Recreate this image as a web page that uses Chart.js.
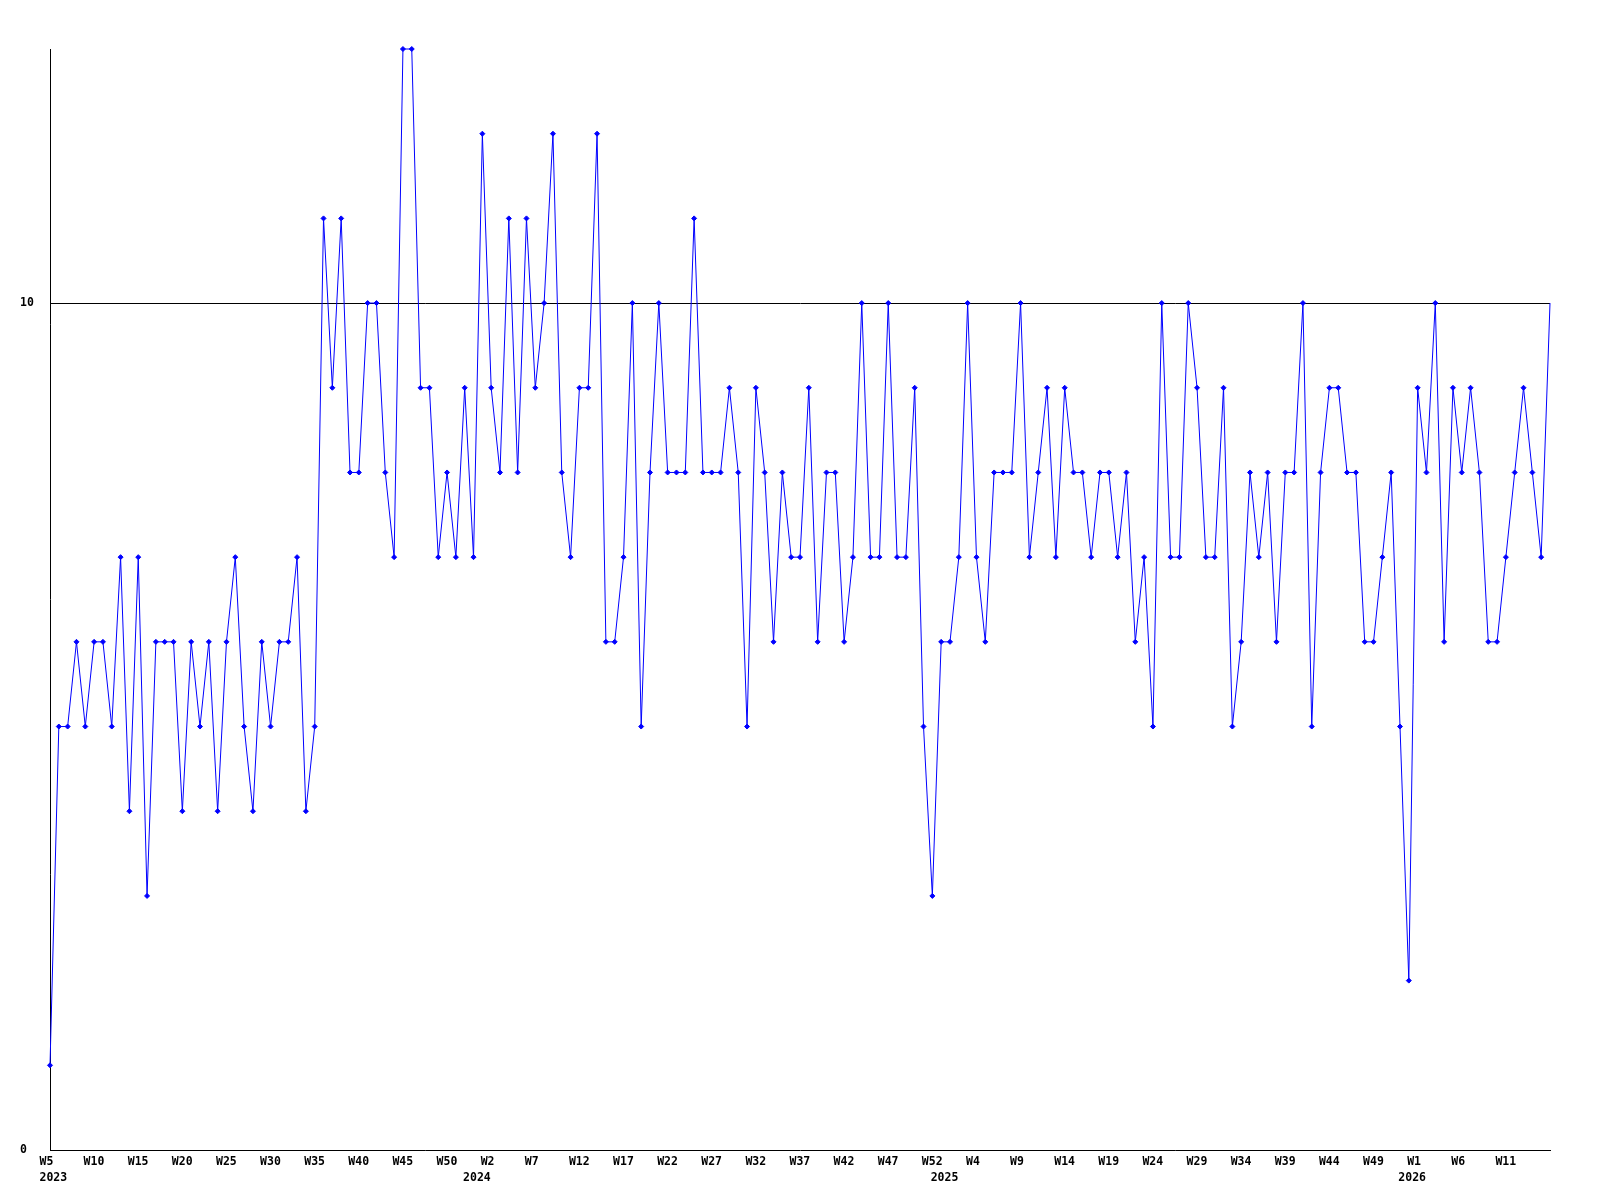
<!DOCTYPE html>
<html>
<head>
<meta charset="utf-8">
<title>Weekly count</title>
<script src="https://cdn.jsdelivr.net/npm/chart.js@4.4.1/dist/chart.umd.min.js"></script>
<style>
    html, body { margin: 0; padding: 0; background: #fff; }
    canvas { display: block; }
</style>
</head>
<body>
<canvas id="weeklyChart" width="1600" height="1200"></canvas>
<script>
var years = ["2023", "2024", "2025", "2026"];
var firstWeek = [5, 0, 0, 0];
var lastWeek = [52, 52, 52, 16];

var counts = [
    1, 5, 5, 6, 5, 6, 6, 5, 7, 4,
    7, 3, 6, 6, 6, 4, 6, 5, 6, 4,
    6, 7, 5, 4, 6, 5, 6, 6, 7, 4,
    5, 11, 9, 11, 8, 8, 10, 10, 8, 7,
    13, 13, 9, 9, 7, 8, 7, 9, 7, 12,
    9, 8, 11, 8, 11, 9, 10, 12, 8, 7,
    9, 9, 12, 6, 6, 7, 10, 5, 8, 10,
    8, 8, 8, 11, 8, 8, 8, 9, 8, 5,
    9, 8, 6, 8, 7, 7, 9, 6, 8, 8,
    6, 7, 10, 7, 7, 10, 7, 7, 9, 5,
    3, 6, 6, 7, 10, 7, 6, 8, 8, 8,
    10, 7, 8, 9, 7, 9, 8, 8, 7, 8,
    8, 7, 8, 6, 7, 5, 10, 7, 7, 10,
    9, 7, 7, 9, 5, 6, 8, 7, 8, 6,
    8, 8, 10, 5, 8, 9, 9, 8, 8, 6,
    6, 7, 8, 5, 2, 9, 8, 10, 6, 9,
    8, 9, 8, 6, 6, 7, 8, 9, 8, 7,
    10
];

var yTicks = [0, 10];

// one category per week; the year is written under the first week of each year
var weekLabels = [];
var yearLabels = [];
for (var y = 0; y < years.length; y++) {
    for (var w = firstWeek[y]; w <= lastWeek[y]; w++) {
        weekLabels.push("W" + w);
        yearLabels.push(w === firstWeek[y] ? years[y] : "");
    }
}

Chart.defaults.font.family = "'DejaVu Sans Mono', monospace";
Chart.defaults.font.size = 11.5;
Chart.defaults.font.weight = "bold";
Chart.defaults.color = "#000";

var lastIndex = counts.length - 1;

new Chart(document.getElementById("weeklyChart"), {
    type: "line",
    data: {
        labels: weekLabels,
        datasets: [{
            data: counts,
            borderColor: "#0000ff",
            borderWidth: 1,
            tension: 0,
            pointStyle: "rectRot",
            pointRadius: function (ctx) {
                return ctx.dataIndex === lastIndex ? 0 : 2.5;
            },
            pointBackgroundColor: "#0000ff",
            pointBorderColor: "#0000ff",
            pointBorderWidth: 1,
            clip: false
        }]
    },
    options: {
        responsive: false,
        animation: false,
        devicePixelRatio: 1,
        layout: {
            padding: {left: 20, top: 49, right: 50, bottom: 0}
        },
        plugins: {
            legend: {display: false},
            tooltip: {enabled: false}
        },
        scales: {
            x: {
                type: "category",
                offset: false,
                grid: {display: false},
                border: {display: true, color: "#000", width: 1},
                afterFit: function (scale) {
                    scale.height = 50;
                },
                ticks: {
                    autoSkip: false,
                    maxRotation: 0,
                    minRotation: 0,
                    align: "start",
                    labelOffset: -10.5,
                    padding: -3.5,
                    font: {lineHeight: "16px"},
                    callback: function (value, index) {
                        // every fifth week is labelled, except at the right edge
                        var week = (index % 5 === 0 && index < lastIndex) ? weekLabels[index] : "";
                        return [week, yearLabels[index]];
                    }
                }
            },
            y: {
                min: 0,
                max: 13,
                afterBuildTicks: function (scale) {
                    scale.ticks = yTicks.map(function (v) { return {value: v}; });
                },
                afterFit: function (scale) {
                    scale.width = 30;
                },
                grid: {
                    color: "#000",
                    drawTicks: false,
                    lineWidth: function (ctx) {
                        return ctx.tick && ctx.tick.value === 10 ? 1 : 0;
                    }
                },
                border: {display: true, color: "#000", width: 1},
                ticks: {
                    crossAlign: "far",
                    padding: 0
                }
            }
        }
    }
});
</script>
</body>
</html>
